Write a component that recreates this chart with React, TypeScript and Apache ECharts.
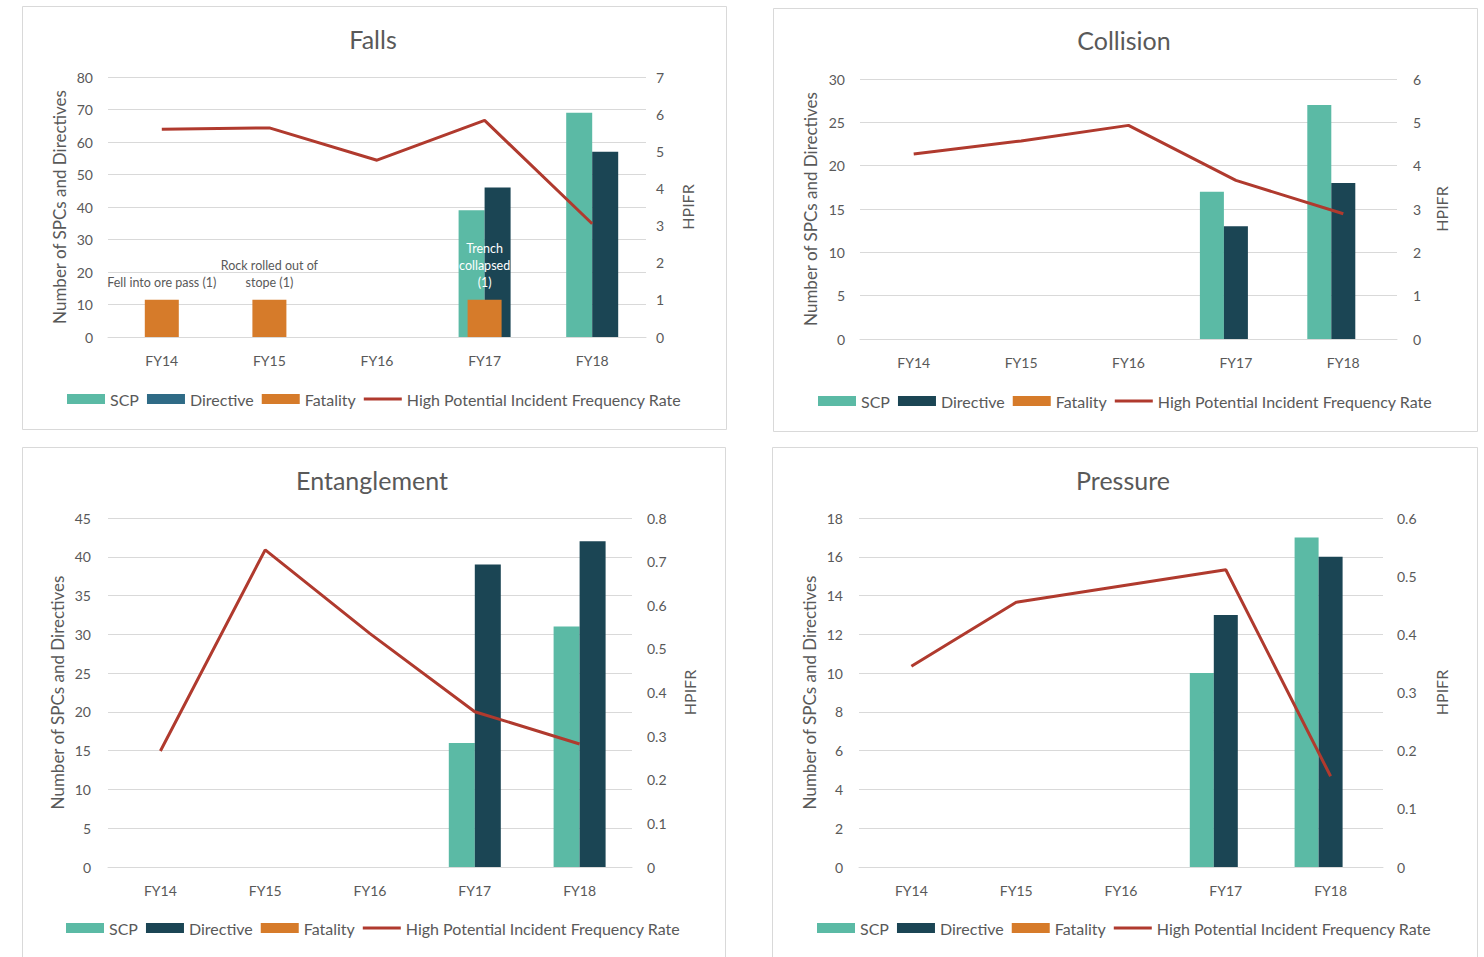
import React, { useEffect, useRef } from "react";
import * as echarts from "echarts";

const categories = ["FY14", "FY15", "FY16", "FY17", "FY18"];
const seriesNames = ["SCP", "Directive", "Fatality", "High Potential Incident Frequency Rate"];

const fallsScp = [null, null, null, 39, 69];
const fallsDirective = [null, null, null, 46, 57];
const fallsFatality = [1, 1, null, 1, null];
const fallsFatalityNotes = ["Fell into ore pass (1)", "Rock rolled out of\nstope (1)", "", "Trench\ncollapsed\n(1)", ""];
const fallsHpifr = [5.59, 5.63, 4.76, 5.83, 3.05];

const collisionScp = [null, null, null, 17, 27];
const collisionDirective = [null, null, null, 13, 18];
const collisionFatality = [null, null, null, null, null];
const collisionHpifr = [4.27, 4.57, 4.93, 3.66, 2.89];

const entanglementScp = [null, null, null, 16, 31];
const entanglementDirective = [null, null, null, 39, 42];
const entanglementFatality = [null, null, null, null, null];
const entanglementHpifr = [0.266, 0.727, 0.535, 0.356, 0.282];

const pressureScp = [null, null, null, 10, 17];
const pressureDirective = [null, null, null, 13, 16];
const pressureFatality = [null, null, null, null, null];
const pressureHpifr = [0.345, 0.455, 0.483, 0.511, 0.156];

const FONT = "Lato, 'Open Sans', sans-serif";
const GRAY = "#595959";
const C_SCP = "#5bbaa5";
const C_DIR = "#1b4554";
const C_FAT = "#d67b2a";
const C_LINE = "#b03a2e";

type Panel = {
  title: string;
  scp: (number | null)[];
  directive: (number | null)[];
  fatality: (number | null)[];
  notes?: string[];
  hpifr: number[];
  leftMax: number;
  leftInt: number;
  rightMax: number;
  rightInt: number;
  box: [number, number, number, number];
  grid: [number, number, number, number];
  titlePos: [number, number];
  legendPos: [number, number];
  barWidth: number;
  fatalityGrouped: boolean;
  dirLegend: string;
  leftGap: number;
  rightGap: number;
  rightMargin: number;
  leftMargin: number;
};

const panels: Panel[] = [
  {
    title: "Falls",
    scp: fallsScp,
    directive: fallsDirective,
    fatality: fallsFatality,
    notes: fallsFatalityNotes,
    hpifr: fallsHpifr,
    leftMax: 80,
    leftInt: 10,
    rightMax: 7,
    rightInt: 1,
    box: [22, 6, 704, 423],
    grid: [108, 77, 538, 260],
    titlePos: [373, 21.5],
    legendPos: [62, 386],
    barWidth: 26,
    fatalityGrouped: false,
    dirLegend: "#2f6b86",
    leftGap: 40,
    rightGap: 33,
    rightMargin: 10,
    leftMargin: 15,
  },
  {
    title: "Collision",
    scp: collisionScp,
    directive: collisionDirective,
    fatality: collisionFatality,
    hpifr: collisionHpifr,
    leftMax: 30,
    leftInt: 5,
    rightMax: 6,
    rightInt: 1,
    box: [773, 8, 704, 423],
    grid: [860, 79, 537, 260],
    titlePos: [1124, 22.5],
    legendPos: [813, 388],
    barWidth: 24,
    fatalityGrouped: true,
    dirLegend: C_DIR,
    leftGap: 41,
    rightGap: 36,
    rightMargin: 16,
    leftMargin: 15,
  },
  {
    title: "Entanglement",
    scp: entanglementScp,
    directive: entanglementDirective,
    fatality: entanglementFatality,
    hpifr: entanglementHpifr,
    leftMax: 45,
    leftInt: 5,
    rightMax: 0.8,
    rightInt: 0.1,
    box: [22, 447, 703, 520],
    grid: [108, 518, 524, 349],
    titlePos: [372, 462.5],
    legendPos: [61, 915],
    barWidth: 26,
    fatalityGrouped: false,
    dirLegend: C_DIR,
    leftGap: 42,
    rightGap: 49,
    rightMargin: 15,
    leftMargin: 17,
  },
  {
    title: "Pressure",
    scp: pressureScp,
    directive: pressureDirective,
    fatality: pressureFatality,
    hpifr: pressureHpifr,
    leftMax: 18,
    leftInt: 2,
    rightMax: 0.6,
    rightInt: 0.1,
    box: [772, 447, 705, 520],
    grid: [859, 518, 524, 349],
    titlePos: [1123, 462.5],
    legendPos: [812, 915],
    barWidth: 24,
    fatalityGrouped: true,
    dirLegend: C_DIR,
    leftGap: 41,
    rightGap: 50,
    rightMargin: 14,
    leftMargin: 16,
  },
];

const LINE_ICON = "path://M0,0 L40,0 L40,3 L0,3 Z";

function buildOption() {
  const grid: any[] = [];
  const xAxis: any[] = [];
  const yAxis: any[] = [];
  const series: any[] = [];
  const title: any[] = [];
  const legend: any[] = [];
  const graphic: any[] = [];

  panels.forEach((p, i) => {
    graphic.push({
      type: "rect",
      shape: { x: p.box[0] + 0.5, y: p.box[1] + 0.5, width: p.box[2], height: p.box[3] },
      style: { fill: "none", stroke: "#d9d9d9", lineWidth: 1 },
      silent: true,
      z: -10,
    });
    grid.push({ left: p.grid[0], top: p.grid[1], width: p.grid[2], height: p.grid[3], containLabel: false });
    xAxis.push({
      type: "category",
      gridIndex: i,
      data: categories,
      axisLine: { show: true, lineStyle: { color: "#d9d9d9", width: 1 } },
      axisTick: { show: false },
      axisLabel: { color: GRAY, fontFamily: FONT, fontSize: 14, margin: 16 },
    });
    xAxis.push({
      type: "category",
      gridIndex: i,
      data: categories,
      show: false,
    });
    yAxis.push({
      type: "value",
      gridIndex: i,
      min: 0,
      max: p.leftMax,
      interval: p.leftInt,
      axisLine: { show: false },
      axisTick: { show: false },
      splitLine: { lineStyle: { color: "#d9d9d9", width: 1 } },
      axisLabel: { color: GRAY, fontFamily: FONT, fontSize: 14, margin: p.leftMargin },
      name: "Number of SPCs and Directives",
      nameLocation: "middle",
      nameRotate: 90,
      nameGap: p.leftGap,
      nameTextStyle: { color: GRAY, fontFamily: FONT, fontSize: 17 },
    });
    yAxis.push({
      type: "value",
      gridIndex: i,
      position: "right",
      min: 0,
      max: p.rightMax,
      interval: p.rightInt,
      axisLine: { show: false },
      axisTick: { show: false },
      splitLine: { show: false },
      axisLabel: { color: GRAY, fontFamily: FONT, fontSize: 14, margin: p.rightMargin },
      name: "HPIFR",
      nameLocation: "middle",
      nameRotate: 90,
      nameGap: p.rightGap,
      nameTextStyle: { color: GRAY, fontFamily: FONT, fontSize: 16 },
    });

    series.push({
      type: "bar",
      name: "SCP",
      xAxisIndex: 2 * i,
      yAxisIndex: 2 * i,
      data: p.scp,
      barWidth: p.barWidth,
      barGap: "0%",
      itemStyle: { color: C_SCP },
    });
    series.push({
      type: "bar",
      name: "Directive",
      xAxisIndex: 2 * i,
      yAxisIndex: 2 * i,
      data: p.directive,
      barWidth: p.barWidth,
      barGap: "0%",
      itemStyle: { color: C_DIR },
    });
    series.push({
      type: "bar",
      name: "Fatality",
      xAxisIndex: p.fatalityGrouped ? 2 * i : 2 * i + 1,
      yAxisIndex: 2 * i + 1,
      data: p.fatality.map((v, k) => ({
        value: v,
        label: {
          show: !!(p.notes && p.notes[k]),
          formatter: p.notes ? p.notes[k] : "",
          color: k === 3 ? "#ffffff" : GRAY,
        },
      })),
      barWidth: p.fatalityGrouped ? p.barWidth : 34,
      barGap: "0%",
      itemStyle: { color: C_FAT },
      label: {
        position: "top",
        distance: 9,
        fontFamily: FONT,
        fontSize: 12.5,
        lineHeight: 17,
        align: "center",
      },
    });
    series.push({
      type: "line",
      name: "High Potential Incident Frequency Rate",
      xAxisIndex: 2 * i,
      yAxisIndex: 2 * i + 1,
      data: p.hpifr,
      symbol: "none",
      lineStyle: { color: C_LINE, width: 3 },
      itemStyle: { color: C_LINE },
      z: 5,
    });

    title.push({
      text: p.title,
      left: p.titlePos[0] - 5,
      top: p.titlePos[1],
      textAlign: "center",
      textStyle: { color: GRAY, fontFamily: FONT, fontSize: 25, fontWeight: "normal" },
    });
    legend.push({
      left: p.legendPos[0],
      top: p.legendPos[1],
      itemWidth: 38,
      itemHeight: 10,
      itemGap: 8,
      textStyle: { color: GRAY, fontFamily: FONT, fontSize: 16 },
      selectedMode: false,
      data: [
        { name: seriesNames[0], icon: "rect", itemStyle: { color: C_SCP } },
        { name: seriesNames[1], icon: "rect", itemStyle: { color: p.dirLegend } },
        { name: seriesNames[2], icon: "rect", itemStyle: { color: C_FAT } },
        { name: seriesNames[3], icon: LINE_ICON, itemStyle: { color: C_LINE } },
      ],
    });
  });

  return {
    animation: false,
    backgroundColor: "#ffffff",
    grid,
    xAxis,
    yAxis,
    series,
    title,
    legend,
    graphic,
  };
}

export default function App() {
  const ref = useRef<HTMLDivElement>(null);
  useEffect(() => {
    if (!ref.current) return;
    const chart = echarts.init(ref.current, null, { renderer: "svg" });
    chart.setOption(buildOption() as any);
    return () => chart.dispose();
  }, []);
  return (
    <div
      ref={ref}
      style={{ position: "absolute", left: 0, top: 0, width: 1484, height: 957, background: "#fff" }}
    />
  );
}
